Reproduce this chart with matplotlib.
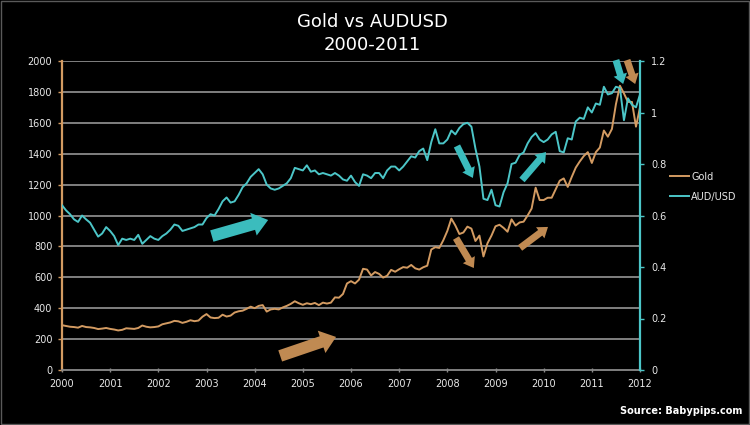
import numpy as np
import matplotlib
matplotlib.use("Agg")
import matplotlib.pyplot as plt
from matplotlib.patches import Rectangle

# ---- data (monthly, Jan 2000 .. Jan 2012) ----
gold = [
    290, 285, 280, 278, 274, 285, 278, 276, 272, 265, 268, 272,      # 2000
    266, 262, 256, 260, 270, 268, 266, 272, 288, 280, 276, 278,      # 2001
    282, 296, 302, 308, 318, 315, 305, 312, 322, 316, 320, 345,      # 2002
    362, 340, 336, 338, 358, 346, 352, 372, 380, 384, 396, 410,      # 2003
    400, 415, 420, 378, 392, 396, 392, 405, 415, 428, 445, 432,      # 2004
    422, 432, 426, 434, 420, 436, 430, 436, 470, 468, 492, 560,      # 2005
    575, 560, 585, 655, 650, 612, 634, 622, 598, 610, 648, 636,      # 2006
    652, 666, 662, 680, 658, 650, 665, 675, 780, 795, 790, 840,      # 2007
    900, 980, 935, 880, 890, 928, 915, 835, 870, 735, 820, 870,      # 2008
    930, 940, 920, 895, 975, 935, 955, 960, 1000, 1045, 1180, 1100,  # 2009
    1100, 1115, 1115, 1170, 1225, 1240, 1185, 1250, 1310, 1350, 1385, 1410,  # 2010
    1340, 1410, 1440, 1550, 1510, 1560, 1720, 1840, 1790, 1735, 1735, 1575,  # 2011
    1700,                                                            # 2012
]
audusd = [
    0.64, 0.62, 0.605, 0.585, 0.575, 0.60, 0.585, 0.572, 0.545, 0.518, 0.53, 0.555,
    0.54, 0.52, 0.485, 0.51, 0.505, 0.51, 0.505, 0.525, 0.49, 0.505, 0.52, 0.51,
    0.505, 0.52, 0.53, 0.545, 0.565, 0.56, 0.54, 0.545, 0.55, 0.555, 0.565, 0.565,
    0.59, 0.605, 0.60, 0.625, 0.655, 0.67, 0.65, 0.655, 0.68, 0.71, 0.725, 0.75,
    0.765, 0.78, 0.76, 0.72, 0.705, 0.70, 0.705, 0.715, 0.725, 0.745, 0.785, 0.78,
    0.775, 0.795, 0.77, 0.775, 0.76, 0.765, 0.76, 0.755, 0.765, 0.755, 0.74, 0.735,
    0.755, 0.73, 0.715, 0.76, 0.755, 0.745, 0.765, 0.765, 0.745, 0.775, 0.79, 0.79,
    0.775, 0.79, 0.81, 0.83, 0.825, 0.85, 0.86, 0.815, 0.885, 0.935, 0.88, 0.88,
    0.895, 0.93, 0.915, 0.94, 0.955, 0.96, 0.945, 0.86, 0.79, 0.665, 0.66, 0.70,
    0.64, 0.635, 0.69, 0.725, 0.80, 0.805, 0.835, 0.845, 0.88, 0.905, 0.92, 0.895,
    0.885, 0.895, 0.915, 0.925, 0.85, 0.845, 0.90, 0.895, 0.965, 0.98, 0.975, 1.02,
    1.00, 1.035, 1.03, 1.10, 1.07, 1.075, 1.10, 1.095, 0.97, 1.055, 1.03, 1.02,
    1.07,
]
years = list(range(2000, 2013))
gold_ticks = [0, 200, 400, 600, 800, 1000, 1200, 1400, 1600, 1800, 2000]
aud_ticks = [0, 0.2, 0.4, 0.6, 0.8, 1, 1.2]
aud_tick_labels = ["0", "0.2", "0.4", "0.6", "0.8", "1", "1.2"]

# decorative arrows: (tail_year, tail_gold, head_year, head_gold, colour, size)
arrows = [
    (2003.11, 867, 2004.28, 971, "cyan", "big"),
    (2004.53, 91, 2005.69, 214, "tan", "big"),
    (2008.20, 1450, 2008.53, 1243, "cyan", "small"),
    (2009.55, 1230, 2010.05, 1411, "cyan", "small"),
    (2008.18, 854, 2008.55, 660, "tan", "small"),
    (2009.51, 790, 2010.09, 926, "tan", "small"),
    (2011.50, 2006, 2011.65, 1851, "cyan", "small"),
    (2011.73, 2006, 2011.90, 1851, "tan", "small"),
]

# ---- style ----
GOLD_C = "#d39b62"
AUD_C = "#4cc6c8"
ARROW_C = {"cyan": "#3bbcbd", "tan": "#c08a52"}
GRID_C = "#8a8a8a"
TXT_C = "#e8e8e8"

x = 2000 + np.arange(len(gold)) / 12.0

fig = plt.figure(figsize=(7.5, 4.25), dpi=100, facecolor="black")
ax = fig.add_axes([62 / 750, 1 - 370 / 425, (640 - 62) / 750, (370 - 61) / 425])
ax.set_facecolor("black")
ax2 = ax.twinx()

ax.set_xlim(2000, 2012)
ax.set_ylim(0, 2000)
ax2.set_ylim(0, 1.2)

for v in gold_ticks[1:]:
    ax.axhline(v, color=GRID_C, lw=1.3, zorder=0)

l1, = ax.plot(x, gold, color=GOLD_C, lw=1.4, zorder=3, label="Gold")
l2, = ax2.plot(x, audusd, color=AUD_C, lw=1.4, zorder=3, label="AUD/USD")

ax.set_xticks(years)
ax.set_xticklabels([str(y) for y in years])
ax.set_yticks(gold_ticks)
ax.set_yticklabels([str(v) for v in gold_ticks])
ax2.set_yticks(aud_ticks)
ax2.set_yticklabels(aud_tick_labels)

for a in (ax, ax2):
    for s in a.spines.values():
        s.set_visible(False)
ax.spines["left"].set_visible(True)
ax.spines["left"].set_color(GOLD_C)
ax.spines["left"].set_linewidth(1.6)
ax.spines["bottom"].set_visible(True)
ax.spines["bottom"].set_color(GRID_C)
ax.spines["bottom"].set_linewidth(1.3)
ax2.spines["right"].set_visible(True)
ax2.spines["right"].set_color(AUD_C)
ax2.spines["right"].set_linewidth(1.6)

ax.tick_params(axis="y", colors=GOLD_C, labelcolor=TXT_C, labelsize=7, length=3, width=1, direction="out", pad=4)
ax.tick_params(axis="x", colors=GRID_C, labelcolor=TXT_C, labelsize=7, length=3, width=1, direction="inout", pad=5)
ax2.tick_params(axis="y", colors=AUD_C, labelcolor=TXT_C, labelsize=7, length=3, width=1, direction="out", pad=5)

# arrows
for tx, ty, hx, hy, c, size in arrows:
    if size == "big":
        style = "simple,head_width=17,head_length=11,tail_width=8.5"
    else:
        style = "simple,head_width=10,head_length=7,tail_width=5"
    ax.annotate("", xy=(hx, hy), xytext=(tx, ty), annotation_clip=False,
                arrowprops=dict(arrowstyle=style, mutation_scale=1, color=ARROW_C[c],
                                shrinkA=0, shrinkB=0, lw=0), zorder=5)

fig.text(372 / 750, 1 - 22 / 425, "Gold vs AUDUSD", color="white", fontsize=13,
         ha="center", va="center")
fig.text(372 / 750, 1 - 45 / 425, "2000-2011", color="white", fontsize=13,
         ha="center", va="center")

leg = fig.legend(handles=[l1, l2], loc="upper left", bbox_to_anchor=(666 / 750, 1 - 168 / 425),
                 frameon=False, fontsize=7, labelcolor=TXT_C, handlelength=2.0,
                 handletextpad=0.2, labelspacing=1.0, borderaxespad=0)

fig.text(742 / 750, 1 - 411 / 425, "Source: Babypips.com", color="white", fontsize=7,
         fontweight="bold", ha="right", va="center")

# faint frame around the picture
fig.patches.append(Rectangle((0.001, 0.002), 0.997, 0.996, transform=fig.transFigure,
                             fill=False, edgecolor="#5a5a5a", lw=1.0))

fig.savefig("out.png", dpi=100, facecolor="black")
